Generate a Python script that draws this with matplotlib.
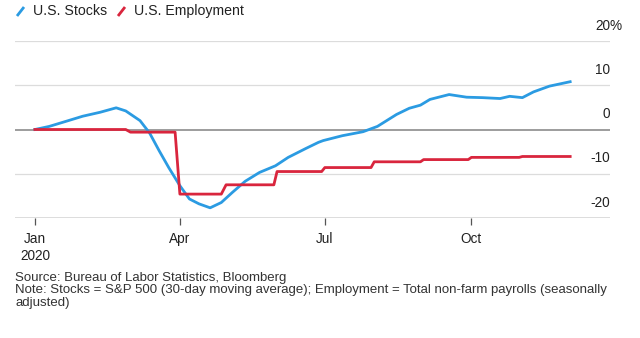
import numpy as np
import pandas as pd
import matplotlib
matplotlib.use('Agg')
import matplotlib.pyplot as plt
from matplotlib.lines import Line2D

plt.rcParams['font.family'] = ['Liberation Sans', 'DejaVu Sans']

# S&P 500, 30-day moving average, % change since Jan 1
stock_dates = ['2020-01-01', '2020-01-10', '2020-01-21', '2020-01-31', '2020-02-11',
               '2020-02-21', '2020-02-27', '2020-03-07', '2020-03-13', '2020-03-19',
               '2020-03-25', '2020-04-01', '2020-04-07', '2020-04-13', '2020-04-20',
               '2020-04-27', '2020-05-04', '2020-05-12', '2020-05-21', '2020-05-31',
               '2020-06-08', '2020-06-19', '2020-06-27', '2020-06-30', '2020-07-12',
               '2020-07-25', '2020-08-03', '2020-08-15', '2020-08-23', '2020-08-30',
               '2020-09-05', '2020-09-17', '2020-09-28', '2020-10-08', '2020-10-19',
               '2020-10-25', '2020-11-02', '2020-11-09', '2020-11-19', '2020-12-02']
stock_values = [0.0, 0.7, 1.9, 3.0, 3.9,
                4.9, 4.2, 2.0, -0.8, -4.8,
                -8.6, -12.7, -15.7, -16.8, -17.7,
                -16.5, -14.2, -11.7, -9.7, -8.2,
                -6.3, -4.3, -2.9, -2.5, -1.4,
                -0.5, 0.7, 3.4, 4.8, 5.5,
                6.8, 7.9, 7.3, 7.2, 7.0,
                7.5, 7.2, 8.5, 9.8, 10.8]

# Total non-farm payrolls, % change since January (monthly steps)
emp_dates = ['2020-01-01', '2020-02-27', '2020-03-01', '2020-03-29', '2020-04-01',
             '2020-04-27', '2020-04-30', '2020-05-30', '2020-06-01', '2020-06-29',
             '2020-07-01', '2020-07-30', '2020-08-01', '2020-08-30', '2020-09-01',
             '2020-09-29', '2020-10-01', '2020-10-31', '2020-11-02', '2020-12-02']
emp_values = [0.0, 0.0, -0.6, -0.6, -14.6,
              -14.6, -12.5, -12.5, -9.5, -9.5,
              -8.6, -8.6, -7.3, -7.3, -6.8,
              -6.8, -6.3, -6.3, -6.1, -6.1]

y_ticks = [20, 10, 0, -10, -20]
x_ticks = ['2020-01-01', '2020-04-01', '2020-07-01', '2020-10-01']
x_labels = ['Jan\n2020', 'Apr', 'Jul', 'Oct']

BLUE = '#2b9be2'
RED = '#d9253d'
TXT = '#222222'

fig = plt.figure(figsize=(6.4, 3.38), dpi=100)
ax = fig.add_axes([15 / 640, 1 - 218 / 338, 595 / 640, 177 / 338])

for v in y_ticks:
    if v == 0:
        ax.axhline(v, color='#8c8c8c', lw=1.2, zorder=1)
    elif v == -20:
        ax.axhline(v, color='#555555', lw=1.0, zorder=1)
    else:
        ax.axhline(v, color='#dcdcdc', lw=0.9, zorder=1)

ax.plot(pd.to_datetime(stock_dates), stock_values, color=BLUE, lw=2.0, zorder=3,
        solid_joinstyle='round')
ax.plot(pd.to_datetime(emp_dates), emp_values, color=RED, lw=2.0, zorder=3,
        solid_joinstyle='round')

ax.set_xlim(pd.Timestamp('2019-12-19 12:00'), pd.Timestamp('2020-12-27'))
ax.set_ylim(-20, 20)
ax.set_yticks([])
ax.set_xticks(pd.to_datetime(x_ticks))
ax.set_xticklabels(x_labels, fontsize=9.8, color=TXT, linespacing=1.3)
ax.tick_params(axis='x', length=5, width=0.9, color='#555555', pad=5)
for s in ax.spines.values():
    s.set_visible(False)

# right-hand value labels sitting above each gridline
for v in y_ticks:
    ax.annotate(str(v), xy=(1.0, v), xycoords=('axes fraction', 'data'),
                xytext=(0, 6), textcoords='offset points', ha='right', va='bottom',
                fontsize=9.8, color=TXT)
    if v == y_ticks[0]:
        ax.annotate('%', xy=(1.0, v), xycoords=('axes fraction', 'data'),
                    xytext=(0, 6), textcoords='offset points', ha='left', va='bottom',
                    fontsize=9.8, color=TXT)

# legend at the top left: short slanted strokes + labels
legend_items = [('U.S. Stocks', BLUE, 17), ('U.S. Employment', RED, 118)]
for label, col, x0 in legend_items:
    fig.add_artist(Line2D([x0 / 640, (x0 + 7) / 640], [1 - 16 / 338, 1 - 7 / 338],
                          color=col, lw=2.0, solid_capstyle='butt'))
    fig.text((x0 + 16) / 640, 1 - 11 / 338, label, fontsize=10.2, color=TXT,
             va='center', ha='left')

footer = ['Source: Bureau of Labor Statistics, Bloomberg',
          'Note: Stocks = S&P 500 (30-day moving average); Employment = Total non-farm payrolls (seasonally',
          'adjusted)']
for i, line in enumerate(footer):
    fig.text(15 / 640, 1 - (278 + 12.5 * i) / 338, line, fontsize=9.5, color='#333333',
             va='center', ha='left')

fig.savefig('out.png', dpi=100)
